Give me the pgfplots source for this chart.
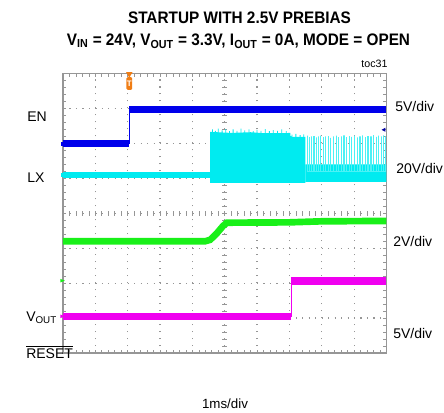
\documentclass[border=0pt]{standalone}
\usepackage{fontspec}
\setmainfont{Liberation Sans}
\usepackage{pgfplots}
\pgfplotsset{compat=1.18}
\definecolor{enc}{RGB}{0,0,235}
\definecolor{lxc}{RGB}{0,235,240}
\definecolor{voc}{RGB}{25,240,25}
\definecolor{rsc}{RGB}{240,0,240}
\definecolor{grd}{RGB}{150,150,150}
\definecolor{trg}{RGB}{240,125,20}
\begin{document}
\begin{tikzpicture}[x=0.75pt,y=-0.75pt]
\path (0,0) rectangle (444,413);
\begin{axis}[at={(47.25pt,-264.75pt)}, anchor=south west, scale only axis,
  width=242.6pt, height=209.6pt,
  xmin=0, xmax=10, ymin=0, ymax=8,
  xtick={0,...,10}, ytick={0,...,8},
  xticklabels={}, yticklabels={},
  minor x tick num=4, minor y tick num=4,
  tick align=inside, major tick length=2.5pt, minor tick length=2.5pt,
  tick style={grd, line width=0.5pt},
  axis line style={grd, line width=1.2pt},
  grid=major,
  major x grid style={grd, line width=0.9pt, dash pattern=on 0.9pt off 4.34pt},
  major y grid style={grd, line width=0.9pt, dash pattern=on 0.9pt off 3.95pt},
  clip=false]
% center crosshair ticks
\pgfplotsinvokeforeach{0,...,50}{
  \draw[grd, line width=0.5pt] (axis cs:{#1*0.2},3.93) -- (axis cs:{#1*0.2},4.07);
}
\pgfplotsinvokeforeach{0,...,40}{
  \draw[grd, line width=0.5pt] (axis cs:4.93,{#1*0.2}) -- (axis cs:5.07,{#1*0.2});
}
% LX switching node
\addplot[lxc, line width=5pt] coordinates {(0,5.10) (4.55,5.10)};
\addplot[fill=lxc, draw=none] coordinates {(4.55,4.87) (4.55,6.33) (5.2,6.30) (5.8,6.32) (6.4,6.28) (7.03,6.30) (7.03,6.19) (7.49,6.19) (7.49,4.87) (4.55,4.87)};
\addplot[lxc, line width=0.6pt] coordinates {
(4.62,6.28)(4.62,6.40)(4.62,6.28)(4.71,6.28)(4.71,6.36)(4.71,6.28)(4.80,6.28)(4.80,6.42)(4.80,6.28)
(4.92,6.28)(4.92,6.37)(4.92,6.28)(5.03,6.28)(5.03,6.41)(5.03,6.28)(5.15,6.28)(5.15,6.35)(5.15,6.28)
(5.26,6.28)(5.26,6.40)(5.26,6.28)(5.38,6.28)(5.38,6.36)(5.38,6.28)(5.50,6.28)(5.50,6.42)(5.50,6.28)
(5.62,6.28)(5.62,6.37)(5.62,6.28)(5.75,6.28)(5.75,6.40)(5.75,6.28)(5.88,6.28)(5.88,6.35)(5.88,6.28)
(6.00,6.28)(6.00,6.39)(6.00,6.28)(6.12,6.28)(6.12,6.36)(6.12,6.28)(6.25,6.28)(6.25,6.41)(6.25,6.28)
(6.38,6.28)(6.38,6.35)(6.38,6.28)(6.50,6.28)(6.50,6.38)(6.50,6.28)(6.63,6.28)(6.63,6.36)(6.63,6.28)
(6.76,6.28)(6.76,6.40)(6.76,6.28)(6.90,6.28)(6.90,6.35)(6.90,6.28)
(7.08,6.17)(7.08,6.25)(7.08,6.17)(7.20,6.17)(7.20,6.27)(7.20,6.17)(7.33,6.17)(7.33,6.24)(7.33,6.17)(7.44,6.17)(7.44,6.26)(7.44,6.17)};
\addplot[fill=lxc, draw=none] coordinates {(7.49,4.90) (7.49,5.40) (10,5.40) (10,4.90) (7.49,4.90)};
\addplot[lxc!70!white, line width=0.9pt] coordinates {
(7.55,5.2)(7.55,6.22)(7.55,5.2)(7.62,5.2)(7.62,6.18)(7.62,5.2)(7.68,5.2)(7.68,6.2)(7.68,5.2)
(7.76,5.2)(7.76,6.21)(7.76,5.2)(7.83,5.2)(7.83,6.17)(7.83,5.2)(7.90,5.2)(7.90,6.2)(7.90,5.2)
(7.97,5.2)(7.97,6.22)(7.97,5.2)(8.05,5.2)(8.05,6.18)(8.05,5.2)(8.12,5.2)(8.12,6.2)(8.12,5.2)
(8.20,5.2)(8.20,6.21)(8.20,5.2)(8.28,5.2)(8.28,6.16)(8.28,5.2)(8.36,5.2)(8.36,6.2)(8.36,5.2)
(8.45,5.2)(8.45,6.22)(8.45,5.2)(8.52,5.2)(8.52,6.18)(8.52,5.2)(8.60,5.2)(8.60,6.2)(8.60,5.2)
(8.69,5.2)(8.69,6.23)(8.69,5.2)(8.76,5.2)(8.76,6.18)(8.76,5.2)(8.85,5.2)(8.85,6.21)(8.85,5.2)
(8.93,5.2)(8.93,6.19)(8.93,5.2)(9.02,5.2)(9.02,6.22)(9.02,5.2)(9.10,5.2)(9.10,6.17)(9.10,5.2)
(9.18,5.2)(9.18,6.2)(9.18,5.2)(9.27,5.2)(9.27,6.23)(9.27,5.2)(9.35,5.2)(9.35,6.18)(9.35,5.2)
(9.43,5.2)(9.43,6.21)(9.43,5.2)(9.52,5.2)(9.52,6.2)(9.52,5.2)(9.60,5.2)(9.60,6.24)(9.60,5.2)
(9.68,5.2)(9.68,6.19)(9.68,5.2)(9.76,5.2)(9.76,6.22)(9.76,5.2)(9.84,5.2)(9.84,6.2)(9.84,5.2)
(9.92,5.2)(9.92,6.23)(9.92,5.2)(9.98,5.2)(9.98,6.2)(9.98,5.2)};
% EN
\addplot[enc, line width=5.5pt] coordinates {(0,5.99) (2.05,5.99)};
\addplot[enc, line width=0.8pt] coordinates {(2.05,5.99) (2.05,6.98)};
\addplot[enc, line width=5.5pt] coordinates {(2.05,6.98) (10,6.98)};
% VOUT
\addplot[voc, line width=5pt] coordinates {(0,3.20) (4.40,3.20) (4.55,3.24) (4.75,3.42) (4.95,3.64) (5.07,3.73) (7.0,3.74) (8.0,3.77) (10,3.78)};
% RESET
\addplot[rsc, line width=5.5pt] coordinates {(0,1.04) (7.06,1.04)};
\addplot[rsc, line width=0.8pt] coordinates {(7.06,1.04) (7.06,2.06)};
\addplot[rsc, line width=5.5pt] coordinates {(7.06,2.06) (10,2.06)};
% ground markers
\fill[enc] (axis cs:-0.06,5.93) rectangle (axis cs:0.12,6.05);
\fill[lxc] (axis cs:-0.06,5.04) rectangle (axis cs:0.12,5.16);
\fill[voc] (axis cs:-0.08,2.02) -- (axis cs:0.06,2.07) -- (axis cs:-0.08,2.12) -- cycle;
\fill[rsc] (axis cs:-0.08,1.0) -- (axis cs:0.06,1.05) -- (axis cs:-0.08,1.1) -- cycle;
% right arrow
\fill[enc!70!black] (axis cs:9.85,6.39) -- (axis cs:9.97,6.33) -- (axis cs:9.97,6.45) -- cycle;
% trigger marker
\fill[trg] (axis cs:1.95,8.04) -- (axis cs:2.15,8.04) -- (axis cs:2.05,7.88) -- cycle;
\fill[trg, rounded corners=1pt] (axis cs:1.96,7.90) rectangle (axis cs:2.14,7.53);
\node[white, font=\bfseries\fontsize{6}{6}\selectfont, inner sep=0pt] at (axis cs:2.05,7.71) {T};
\end{axis}
\node[font=\bfseries\fontsize{12.5}{14}\selectfont, xscale=0.92, inner sep=0pt] at (239.5,18) {STARTUP WITH 2.5V PREBIAS};
\node[font=\bfseries\fontsize{12.5}{14}\selectfont, xscale=0.92, inner sep=0pt] at (238.5,41) {V\textsubscript{IN} = 24V, V\textsubscript{OUT} = 3.3V, I\textsubscript{OUT} = 0A, MODE = OPEN};
\node[font=\fontsize{8}{9}\selectfont, inner sep=0pt] at (374.5,64) {toc31};
\node[anchor=west, font=\fontsize{10.5}{12}\selectfont, inner sep=0pt] at (27,117) {EN};
\node[anchor=west, font=\fontsize{10.5}{12}\selectfont, inner sep=0pt] at (27,178) {LX};
\node[anchor=west, font=\fontsize{10.5}{12}\selectfont, inner sep=0pt] at (26,318) {V\textsubscript{OUT}};
\node[anchor=west, font=\fontsize{10.5}{12}\selectfont, inner sep=0pt] at (26,352) {$\overline{\mbox{RESET}}$};
\node[anchor=west, font=\fontsize{10.5}{12}\selectfont, inner sep=0pt] at (395,106) {5V/div};
\node[anchor=west, font=\fontsize{10.5}{12}\selectfont, inner sep=0pt] at (396,168) {20V/div};
\node[anchor=west, font=\fontsize{10.5}{12}\selectfont, inner sep=0pt] at (393,242) {2V/div};
\node[anchor=west, font=\fontsize{10.5}{12}\selectfont, inner sep=0pt] at (393,334) {5V/div};
\node[font=\fontsize{10}{12}\selectfont, inner sep=0pt] at (225,404) {1ms/div};
\end{tikzpicture}
\end{document}
